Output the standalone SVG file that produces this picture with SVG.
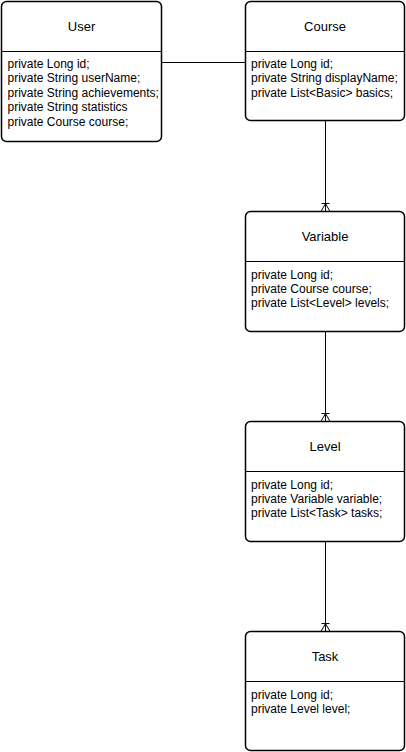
<svg xmlns="http://www.w3.org/2000/svg" width="406" height="752" viewBox="0 0 406 752">
<defs>
<style>
.box{fill:#ffffff;stroke:#000000;stroke-width:1.5}
.div{stroke:#000000;stroke-width:1;fill:none}
.edge{stroke:#000000;stroke-width:1;fill:none}
.title{font-family:"Liberation Sans",Arial,Helvetica,sans-serif;font-size:13px;fill:#000000;text-anchor:middle}
.body{font-family:"Liberation Sans",Arial,Helvetica,sans-serif;font-size:12px;fill:#000000}
</style>
<marker id="crow" markerUnits="userSpaceOnUse" markerWidth="14" markerHeight="12" viewBox="0 -6 12 12" refX="10" refY="0" orient="auto" overflow="visible">
<path d="M2,-4 L2,4 M2,0 L10,0 M2,0 L10,-4.5 M2,0 L10,4.5" stroke="#000000" stroke-width="1" fill="none"/>
</marker>
</defs>
<rect width="406" height="752" fill="#ffffff"/>
<g id="connectors">
<path class="edge" d="M161.5,62.5 L245.5,62.5"/>
<path class="edge" d="M325.5,120.5 L325.5,211.5" marker-end="url(#crow)"/>
<path class="edge" d="M325.5,331.5 L325.5,421.5" marker-end="url(#crow)"/>
<path class="edge" d="M325.5,541.5 L325.5,631.5" marker-end="url(#crow)"/>
</g>
<g id="User">
<rect class="box" x="1.5" y="1.5" width="160" height="140" rx="5"/>
<line class="div" x1="1.5" y1="51.5" x2="161.5" y2="51.5"/>
<text class="title" x="81.5" y="31">User</text>
<text class="body" x="7.5" y="68">private Long id;</text>
<text class="body" x="7.5" y="82.4">private String userName;</text>
<text class="body" x="7.5" y="96.8">private String achievements;</text>
<text class="body" x="7.5" y="111.2">private String statistics</text>
<text class="body" x="7.5" y="125.6">private Course course;</text>
</g>
<g id="Course">
<rect class="box" x="245.5" y="1.5" width="159" height="119" rx="5"/>
<line class="div" x1="245.5" y1="51.5" x2="404.5" y2="51.5"/>
<text class="title" x="325" y="31">Course</text>
<text class="body" x="251" y="68">private Long id;</text>
<text class="body" x="251" y="82.4">private String displayName;</text>
<text class="body" x="251" y="96.8">private List&lt;Basic&gt; basics;</text>
</g>
<g id="Variable">
<rect class="box" x="245.5" y="211.5" width="159" height="120" rx="5"/>
<line class="div" x1="245.5" y1="261.5" x2="404.5" y2="261.5"/>
<text class="title" x="325" y="241">Variable</text>
<text class="body" x="251" y="278.5">private Long id;</text>
<text class="body" x="251" y="292.9">private Course course;</text>
<text class="body" x="251" y="307.3">private List&lt;Level&gt; levels;</text>
</g>
<g id="Level">
<rect class="box" x="245.5" y="421.5" width="159" height="120" rx="5"/>
<line class="div" x1="245.5" y1="471.5" x2="404.5" y2="471.5"/>
<text class="title" x="325" y="451">Level</text>
<text class="body" x="251" y="488.5">private Long id;</text>
<text class="body" x="251" y="502.9">private Variable variable;</text>
<text class="body" x="251" y="517.3">private List&lt;Task&gt; tasks;</text>
</g>
<g id="Task">
<rect class="box" x="245.5" y="631.5" width="159" height="119" rx="5"/>
<line class="div" x1="245.5" y1="681.5" x2="404.5" y2="681.5"/>
<text class="title" x="325" y="661">Task</text>
<text class="body" x="251" y="698.5">private Long id;</text>
<text class="body" x="251" y="712.9">private Level level;</text>
</g>
</svg>
